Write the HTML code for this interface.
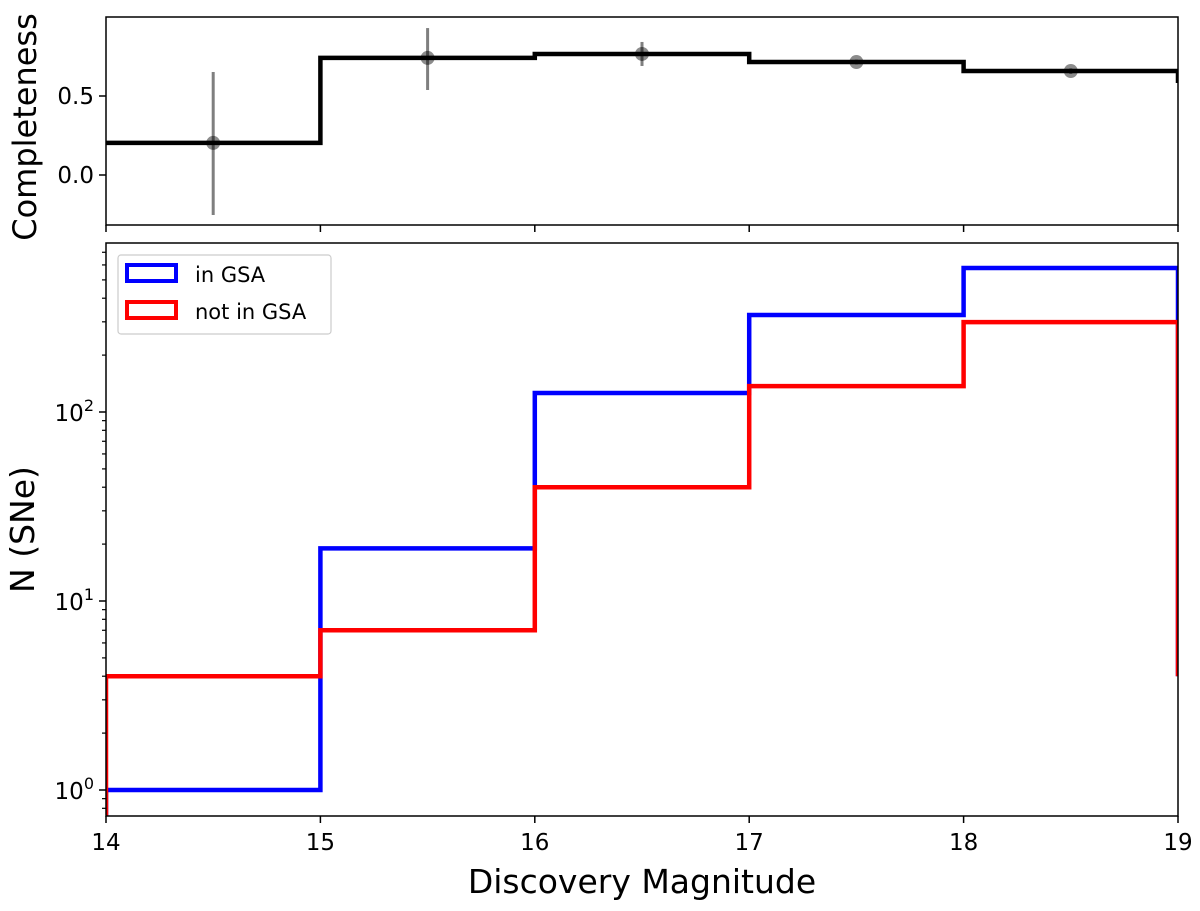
<!DOCTYPE html>
<html><head><meta charset="utf-8"><style>
html,body{margin:0;padding:0;background:#fff;}
svg{display:block;font-family:"DejaVu Sans","Liberation Sans",sans-serif;}
</style></head><body>
<svg id="chart" width="1200" height="911" viewBox="0 0 1200 911">
<g id="topPanel"></g>
<g id="botPanel"></g>
</svg>
<script>
const binEdges=[14,15,16,17,18,19];
const completeness=[0.203,0.741,0.766,0.715,0.658];
const errLow=[-0.253,0.538,0.69,0.70,0.64];
const errHigh=[0.652,0.93,0.842,0.73,0.675];
const inGSA=[1,19,126,326,578];
const notInGSA=[4,7,40,137,299];
const xTicks=[14,15,16,17,18,19];
const topYTicks=[0.0,0.5];
const logDecades=[0,1,2];

const NS="http://www.w3.org/2000/svg";
const L=106,R=1178;
const tTop=17,tBot=225,bTop=243,bBot=816;
const xs=v=>L+(v-14)/(19-14)*(R-L);
const yt=v=>175-v*158;
const yb=v=>790-Math.log10(v)*189;
function mk(parent,tag,attrs,name,text){
  const el=document.createElementNS(NS,tag);
  for(const k in attrs)el.setAttribute(k,attrs[k]);
  
  
  if(text!==undefined)el.textContent=text;
  parent.appendChild(el);return el;
}
const topPanel=document.getElementById('topPanel'),botPanel=document.getElementById('botPanel');

const defs=mk(document.getElementById('chart'),'defs',{},'defs');
const c1=mk(defs,'clipPath',{id:'ct'},'clip-top');mk(c1,'rect',{x:L,y:tTop,width:R-L,height:tBot-tTop},'clip-rect');
const c2=mk(defs,'clipPath',{id:'cb'},'clip-bottom');mk(c2,'rect',{x:L,y:bTop,width:R-L,height:bBot-bTop},'clip-rect');

let d=`M${xs(binEdges[0])},${yt(completeness[0])}`;
completeness.forEach((v,i)=>{d+=` L${xs(binEdges[i])},${yt(v)} L${xs(binEdges[i+1])},${yt(v)}`;});
d+=` L${xs(binEdges[binEdges.length-1])},${yt(completeness[completeness.length-1])+12}`;
const gt=mk(topPanel,'g',{'clip-path':'url(#ct)'},'completeness-plot-area');
mk(gt,'path',{d:d,fill:'none',stroke:'#000','stroke-width':4.5},'completeness-step-line');
completeness.forEach((v,i)=>{
  const cx=xs((binEdges[i]+binEdges[i+1])/2);
  mk(gt,'line',{x1:cx,x2:cx,y1:yt(errLow[i]),y2:yt(errHigh[i]),stroke:'#000','stroke-opacity':0.5,'stroke-width':3},'error-bar');
  mk(gt,'circle',{cx:cx,cy:yt(v),r:7,fill:'#000','fill-opacity':0.45},'completeness-point');
});
mk(topPanel,'rect',{x:L,y:tTop,width:R-L,height:tBot-tTop,fill:'none',stroke:'#000','stroke-width':1.5},'top-axes-frame');
topYTicks.forEach(v=>{
  mk(topPanel,'line',{x1:L-7,x2:L,y1:yt(v),y2:yt(v),stroke:'#000','stroke-width':1.5},'y-tick');
  mk(topPanel,'text',{x:L-12,y:yt(v)+8,'text-anchor':'end','font-size':23},'y-tick-label',v.toFixed(1));
});
xTicks.forEach(v=>mk(topPanel,'line',{x1:xs(v),x2:xs(v),y1:tBot,y2:tBot+7,stroke:'#000','stroke-width':1.5},'x-tick'));
mk(topPanel,'text',{x:0,y:0,transform:`translate(36,${(tTop+tBot)/2+6}) rotate(-90)`,'text-anchor':'middle','font-size':32},'completeness-axis-title','Completeness');

const gb=mk(botPanel,'g',{'clip-path':'url(#cb)'},'counts-plot-area');
function stepPath(arr,endY){
  let p=`M${xs(binEdges[0])},${bBot+5}`;
  arr.forEach((v,i)=>{p+=` L${xs(binEdges[i])},${yb(v)} L${xs(binEdges[i+1])},${yb(v)}`;});
  p+=` L${xs(binEdges[binEdges.length-1])},${endY}`;
  return p;
}
mk(gb,'path',{d:stepPath(inGSA,yb(notInGSA[0])),fill:'none',stroke:'#0000ff','stroke-width':4.5},'in-gsa-histogram');
mk(gb,'path',{d:stepPath(notInGSA,yb(notInGSA[0])),fill:'none',stroke:'#ff0000','stroke-width':4.5},'not-in-gsa-histogram');
mk(botPanel,'rect',{x:L,y:bTop,width:R-L,height:bBot-bTop,fill:'none',stroke:'#000','stroke-width':1.5},'bottom-axes-frame');
logDecades.forEach(e=>{
  const y=yb(Math.pow(10,e));
  mk(botPanel,'line',{x1:L-7,x2:L,y1:y,y2:y,stroke:'#000','stroke-width':1.5},'y-major-tick');
  const t=mk(botPanel,'text',{x:L-12,y:y+9,'text-anchor':'end','font-size':23},'y-tick-label');
  t.textContent='10';
  const s=document.createElementNS(NS,'tspan');s.setAttribute('dy',-10);s.setAttribute('font-size',16);s.textContent=String(e);
  
  
  t.appendChild(s);
});
for(let e=-1;e<=2;e++)for(let m=2;m<=9;m++){
  const v=m*Math.pow(10,e);const y=yb(v);
  if(y<bTop||y>bBot)continue;
  mk(botPanel,'line',{x1:L-4,x2:L,y1:y,y2:y,stroke:'#000','stroke-width':1.2},'y-minor-tick');
}
xTicks.forEach(v=>{
  mk(botPanel,'line',{x1:xs(v),x2:xs(v),y1:bBot,y2:bBot+7,stroke:'#000','stroke-width':1.5},'x-tick');
  mk(botPanel,'text',{x:xs(v),y:bBot+34,'text-anchor':'middle','font-size':23},'x-tick-label',String(v));
});
mk(botPanel,'text',{x:(L+R)/2,y:893,'text-anchor':'middle','font-size':33},'x-axis-title','Discovery Magnitude');
mk(botPanel,'text',{x:0,y:0,transform:`translate(34,${(bTop+bBot)/2}) rotate(-90)`,'text-anchor':'middle','font-size':33},'y-axis-title','N (SNe)');
const lg=mk(botPanel,'g',{},'legend');
mk(lg,'rect',{x:118,y:255,width:213,height:79,rx:3,fill:'#fff',stroke:'#ccc','stroke-width':1.2},'legend-box');
mk(lg,'rect',{x:127,y:265,width:49,height:16,fill:'none',stroke:'#0000ff','stroke-width':4},'legend-swatch-in-gsa');
mk(lg,'text',{x:195,y:282,'font-size':21},'legend-label-in-gsa','in GSA');
mk(lg,'rect',{x:127,y:302,width:49,height:16,fill:'none',stroke:'#ff0000','stroke-width':4},'legend-swatch-not-in-gsa');
mk(lg,'text',{x:195,y:319,'font-size':21},'legend-label-not-in-gsa','not in GSA');
</script>
</body></html>
